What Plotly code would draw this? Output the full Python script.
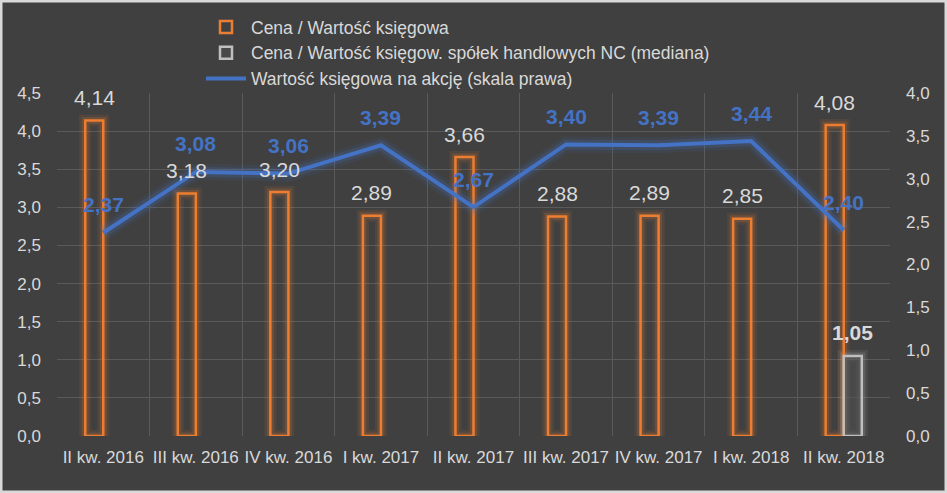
import plotly.graph_objects as go

categories = ["II kw. 2016", "III kw. 2016", "IV kw. 2016", "I kw. 2017", "II kw. 2017",
              "III kw. 2017", "IV kw. 2017", "I kw. 2018", "II kw. 2018"]
pbv = [4.14, 3.18, 3.20, 2.89, 3.66, 2.88, 2.89, 2.85, 4.08]
pbv_median = [None, None, None, None, None, None, None, None, 1.05]
bvps = [2.37, 3.08, 3.06, 3.39, 2.67, 3.40, 3.39, 3.44, 2.40]

names = ["Cena / Wartość księgowa",
         "Cena / Wartość księgow. spółek handlowych NC (mediana)",
         "Wartość księgowa na akcję (skala prawa)"]

ORANGE = "#ED7D31"
GREY = "#BFBFBF"
BLUE = "#4472C4"
TXT = "#D9D9D9"
BG = "#404040"
FONT = "Liberation Sans"

W = 947; H = 493
L, R, T, B = 57, 57, 93, 57
pw = W - L - R
ph = H - T - B

bw = 0.195

def fmt(v):
    return f"{v:.2f}".replace(".", ",")

fig = go.Figure()

# glow layers
for lw, a in [(12, 0.10), (7, 0.18)]:
    fig.add_trace(go.Bar(x=categories, y=pbv, width=bw, offset=-bw,
                         marker=dict(color="rgba(0,0,0,0)", line=dict(color=f"rgba(237,125,49,{a})", width=lw)),
                         showlegend=False, hoverinfo="skip"))
    fig.add_trace(go.Bar(x=categories, y=pbv_median, width=bw, offset=0,
                         marker=dict(color="rgba(0,0,0,0)", line=dict(color=f"rgba(191,191,191,{a})", width=lw)),
                         showlegend=False, hoverinfo="skip"))

fig.add_trace(go.Bar(x=categories, y=pbv, name=names[0], width=bw, offset=-bw,
                     marker=dict(color="rgba(64,64,64,0)", line=dict(color=ORANGE, width=2.5))))
fig.add_trace(go.Bar(x=categories, y=pbv_median, name=names[1], width=bw, offset=0,
                     marker=dict(color="rgba(80,80,80,0.6)", line=dict(color=GREY, width=2.5))))

for lw, a in [(16, 0.10), (10, 0.18)]:
    fig.add_trace(go.Scatter(x=categories, y=bvps, yaxis="y2", mode="lines",
                             line=dict(color=f"rgba(68,114,196,{a})", width=lw),
                             showlegend=False, hoverinfo="skip"))
fig.add_trace(go.Scatter(x=categories, y=bvps, yaxis="y2", mode="lines", name=names[2],
                         line=dict(color=BLUE, width=4)))

ann = []
for c, v in zip(categories, pbv):
    ann.append(dict(x=c, y=v, xref="x", yref="y", text=fmt(v), showarrow=False,
                    xshift=-bw / 2 * pw / 9, yshift=23,
                    font=dict(family=FONT, size=21, color=TXT)))
for c, v in zip(categories, pbv_median):
    if v is not None:
        ann.append(dict(x=c, y=v, xref="x", yref="y", text="<b>" + fmt(v) + "</b>", showarrow=False,
                        xshift=bw / 2 * pw / 9, yshift=23,
                        font=dict(family=FONT, size=21, color=TXT)))
for c, v in zip(categories, bvps):
    ann.append(dict(x=c, y=v, xref="x", yref="y2", text="<b>" + fmt(v) + "</b>", showarrow=False,
                    yshift=28, font=dict(family=FONT, size=21, color=BLUE)))

fig.update_layout(
    width=W, height=H,
    margin=dict(l=L, r=R, t=T, b=B, autoexpand=False),
    paper_bgcolor=BG, plot_bgcolor=BG,
    separators=", ",
    barmode="overlay",
    font=dict(family=FONT, size=17, color=TXT),
    xaxis=dict(type="category", range=[-0.5, 8.5], tickson="boundaries", showgrid=True,
               gridcolor="#5A5A5A", gridwidth=1, ticks="", showline=False, zeroline=False,
               tickangle=0, automargin=False,
               tickfont=dict(family=FONT, size=17, color=TXT), ticklabelstandoff=9),
    yaxis=dict(range=[0, 4.5], dtick=0.5, tickformat=".1f", showgrid=True, gridcolor="#5A5A5A",
               gridwidth=1, zeroline=False, showline=False, ticks="", automargin=False,
               tickfont=dict(family=FONT, size=17, color=TXT), ticklabelstandoff=15),
    yaxis2=dict(range=[0, 4.0], dtick=0.5, tickformat=".1f", overlaying="y", side="right",
                showgrid=False, zeroline=False, showline=False, ticks="", automargin=False,
                tickfont=dict(family=FONT, size=17, color=TXT), ticklabelstandoff=15),
    legend=dict(x=(201 - L) / pw, y=1 + (T - 9) / ph, xanchor="left", yanchor="top",
                bgcolor="rgba(0,0,0,0)", font=dict(family=FONT, size=17.5, color=TXT),
                tracegroupgap=0, itemwidth=40),
    annotations=ann,
    shapes=[dict(type="rect", xref="paper", yref="paper",
                 x0=-L / pw, x1=1 + R / pw, y0=-B / ph, y1=1 + T / ph,
                 line=dict(color="#D9D9D9", width=5), fillcolor="rgba(0,0,0,0)", layer="above")],
)

fig.write_html("out.html")
